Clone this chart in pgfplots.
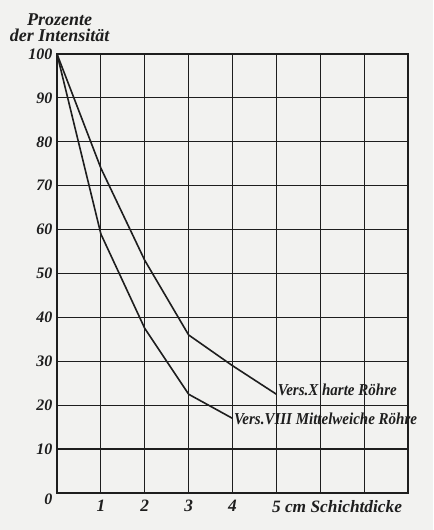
\documentclass[border=0pt]{standalone}
\usepackage{pgfplots}
\pgfplotsset{compat=1.18}
\usepackage{fontspec}
\setmainfont{Liberation Serif}
\newfontfamily\cond[FakeStretch=0.9]{Liberation Serif}
\definecolor{paper}{RGB}{242,242,240}
\definecolor{ink}{RGB}{30,30,30}
\begin{document}
\begin{tikzpicture}
\fill[paper] (-42.75pt,-27.75pt) rectangle (282pt,369.75pt);
\begin{axis}[
  at={(0,0)}, anchor=south west,
  scale only axis, width=263.25pt, height=329.25pt,
  xmin=0, xmax=8, ymin=0, ymax=100,
  clip=false,
  xtick={0,1,2,3,4,5,6,7,8},
  xticklabels={,1,2,3,4,5\rlap{\ cm Schichtdicke},,,},
  ytick={0,10,20,30,40,50,60,70,80,90,100},
  yticklabels={\smash{\raisebox{-9pt}{0}},10,20,30,40,50,60,70,80,90,100},
  grid=major,
  major grid style={ink, line width=0.9pt},
  axis line style={ink, line width=1.6pt},
  major tick length=0pt,
  yticklabel style={font=\bfseries\itshape\fontsize{12}{13}\selectfont, text=ink},
  xticklabel style={font=\bfseries\itshape\fontsize{13}{14}\selectfont, text=ink, yshift=-2pt},
  /pgf/number format/assume math mode=true,
]
\addplot[ink, line width=1.2pt] coordinates {(0,100) (1,74) (2,53) (3,36) (4,29) (5,22.5)};
\addplot[ink, line width=1.2pt] coordinates {(0,100) (1,59) (2,37.5) (3,22.5) (4,17)};
\node[anchor=west, inner sep=1pt, yshift=3.5pt, font=\cond\bfseries\itshape\fontsize{12.5}{13}\selectfont, text=ink] at (axis cs:5,22.5) {Vers.X harte Röhre};
\node[anchor=west, inner sep=1pt, font=\cond\bfseries\itshape\fontsize{12.5}{13}\selectfont, text=ink] at (axis cs:4,17) {Vers.VIII Mittelweiche Röhre};
\end{axis}
\node[anchor=south, align=center, inner sep=0pt, font=\bfseries\itshape\fontsize{13.5}{12.5}\selectfont, text=ink] at (2pt,338pt) {Prozente\\der Intensität};
\pgfresetboundingbox
\useasboundingbox (-42.75pt,-27.75pt) rectangle (282pt,369.75pt);
\end{tikzpicture}
\end{document}
